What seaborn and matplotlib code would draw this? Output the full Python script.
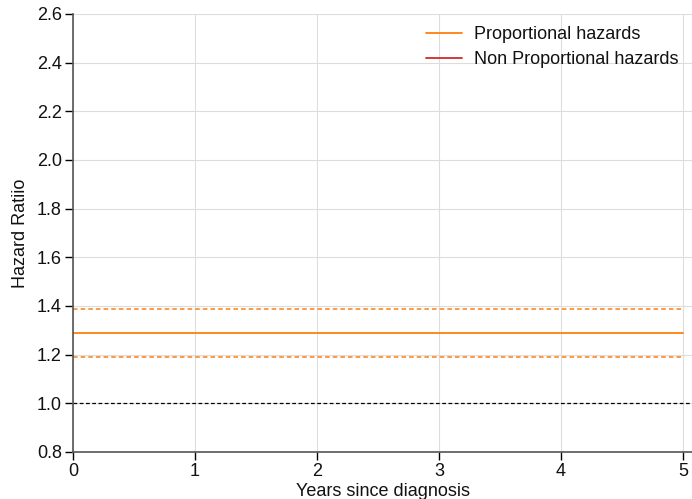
import matplotlib
matplotlib.use("Agg")
import matplotlib.pyplot as plt
import seaborn as sns
import pandas as pd

# Hazard ratio estimates over follow-up time
years = [0, 5]
hr_ph = [1.287, 1.287]
hr_ph_lower = [1.19, 1.19]
hr_ph_upper = [1.388, 1.388]
reference_hr = 1.0

xticks = [0, 1, 2, 3, 4, 5]
yticks = [0.8, 1.0, 1.2, 1.4, 1.6, 1.8, 2.0, 2.2, 2.4, 2.6]

sns.set_theme(style="whitegrid")
plt.rcParams["font.family"] = ["Liberation Sans", "DejaVu Sans"]

orange = "#ff7f0e"
red = "#d62728"
text_color = "#111111"

df = pd.DataFrame({"years": years, "hr": hr_ph, "lo": hr_ph_lower, "hi": hr_ph_upper})

fig = plt.figure(figsize=(6.92, 4.99), dpi=100)
ax = fig.add_axes([73 / 692, 1 - 452 / 499, (692 - 73) / 692, (452 - 14) / 499])

sns.lineplot(data=df, x="years", y="hr", ax=ax, color=orange, lw=1.3,
             label="Proportional hazards")
sns.lineplot(data=df, x="years", y="lo", ax=ax, color=orange, lw=1.1,
             linestyle=(0, (3, 2)))
sns.lineplot(data=df, x="years", y="hi", ax=ax, color=orange, lw=1.1,
             linestyle=(0, (3, 2)))
ax.plot([], [], color=red, lw=1.3, label="Non Proportional hazards")
ax.axhline(reference_hr, color="black", lw=0.9, linestyle=(0, (3, 2)))

ax.set_xlim(0, 5 + 9 / 122)
ax.set_ylim(0.8, 2.6)
ax.set_xticks(xticks)
ax.set_yticks(yticks)
ax.set_xticklabels([str(t) for t in xticks])
ax.set_yticklabels([f"{t:.1f}" for t in yticks])

ax.grid(True, color="#dddddd", lw=0.8)
for s in ["top", "right"]:
    ax.spines[s].set_visible(False)
for s in ["left", "bottom"]:
    ax.spines[s].set_color("#555555")
    ax.spines[s].set_linewidth(1.2)

ax.tick_params(axis="both", which="both", direction="out", length=6, width=1,
               color="black", labelsize=13, labelcolor=text_color, pad=2,
               left=True, bottom=True)

ax.set_xlabel("Years since diagnosis", fontsize=13, color=text_color, labelpad=2)
ax.set_ylabel("Hazard Ratiio", fontsize=13, color=text_color, labelpad=6)

leg = ax.legend(loc="upper right", bbox_to_anchor=(1 - 3 / 619, 1 - 1 / 438),
                frameon=False, fontsize=13, handlelength=2.0,
                handletextpad=0.65, borderaxespad=0.2, labelspacing=0.45)
for t in leg.get_texts():
    t.set_color(text_color)

fig.savefig("out.png", dpi=100)
